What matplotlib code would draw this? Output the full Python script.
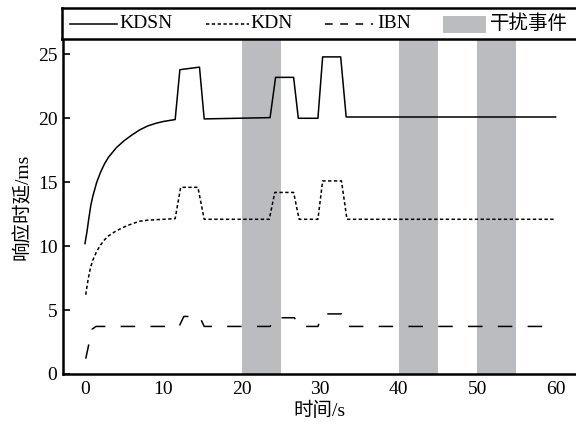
import matplotlib
matplotlib.use("Agg")
import matplotlib.pyplot as plt
from matplotlib.patches import Rectangle
from matplotlib.lines import Line2D

plt.rcParams['font.family'] = ['Liberation Serif', 'Noto Sans CJK SC']

# 数据
kdsn_x = [0, 0.25, 0.5, 0.75, 1, 1.5, 2, 2.5, 3, 4, 5, 6, 7, 8, 9, 10, 11.5, 12.1, 14.6, 15.2,
          23.6, 24.3, 26.6, 27.2, 29.7, 30.3, 32.6, 33.3, 60]
kdsn_y = [10.2, 11.1, 12.2, 13.2, 13.9, 15.0, 15.8, 16.45, 16.95, 17.7, 18.25, 18.7, 19.1, 19.4,
          19.6, 19.75, 19.9, 23.8, 24.0, 19.95, 20.05, 23.2, 23.2, 20.0, 20.0, 24.8, 24.8, 20.1, 20.1]

kdn_x = [0.1, 0.4, 0.7, 1, 1.5, 2, 2.5, 3, 3.5, 4, 5, 6, 7, 8, 10, 11.5, 12.2, 14.4, 15.2,
         23.5, 24.2, 26.6, 27.3, 29.7, 30.3, 32.7, 33.4, 60]
kdn_y = [6.2, 7.4, 8.3, 8.9, 9.6, 10.1, 10.5, 10.8, 11.0, 11.2, 11.5, 11.75, 11.95, 12.03, 12.1,
         12.15, 14.6, 14.6, 12.1, 12.1, 14.2, 14.2, 12.1, 12.1, 15.1, 15.1, 12.1, 12.1]

ibn_x = [0.1, 0.9, 1.4, 12.0, 12.6, 14.6, 15.2, 23.6, 24.2, 26.7, 27.3, 29.7, 30.3,
         32.7, 33.4, 60]
ibn_y = [1.2, 3.5, 3.72, 3.72, 4.5, 4.5, 3.72, 3.72, 4.4, 4.4, 3.72, 3.72, 4.7,
         4.7, 3.72, 3.72]

events = [(20, 25), (40, 45), (50, 55)]
xticks = [0, 10, 20, 30, 40, 50, 60]
yticks = [0, 5, 10, 15, 20, 25]

gray = '#bbbcc0'
W, H = 576, 422
fs = 14

fig = plt.figure(figsize=(5.76, 4.22), dpi=100)
ax = fig.add_axes([63 / W, 48 / H, 1 - 63 / W, (374 - 39) / H])

for a, b in events:
    ax.axvspan(a, b, color=gray, lw=0, zorder=0)

ax.plot(kdsn_x, kdsn_y, color='black', lw=1.1, linestyle='-')
ax.plot(kdn_x, kdn_y, color='black', lw=1.1, linestyle=(0, (2.2, 1.6)))
ax.plot(ibn_x, ibn_y, color='black', lw=1.1, linestyle=(0, (9.5, 10)))

ax.set_xlim(-2.8, 62.6)
ax.set_ylim(0, 26.2)
ax.set_xticks(xticks)
ax.set_yticks(yticks)
ax.tick_params(axis='x', length=0, labelsize=fs, pad=5)
ax.tick_params(axis='y', direction='in', length=5, width=1.2, labelsize=fs, pad=4)
for s in ['top', 'right']:
    ax.spines[s].set_visible(False)
for s in ['left', 'bottom']:
    ax.spines[s].set_linewidth(1.8)

ax.set_xlabel('时间/s', fontsize=fs, labelpad=3)
ax.set_ylabel('响应时延/ms', fontsize=fs, labelpad=4)

# 图例框
lax = fig.add_axes([62 / W, 1 - 39 / H, 1 - 62 / W, 31 / H])
lax.set_xlim(62, W)
lax.set_ylim(39, 8)
lax.set_xticks([])
lax.set_yticks([])
for s in ['top', 'bottom', 'left']:
    lax.spines[s].set_linewidth(1.8)
lax.spines['right'].set_visible(False)

ym = 24
lax.add_line(Line2D([70, 117], [ym, ym], color='black', lw=1.1))
lax.text(119, ym, 'KDSN', fontsize=fs, va='center')
lax.add_line(Line2D([206, 249], [ym, ym], color='black', lw=1.1, linestyle=(0, (2.2, 1.6))))
lax.text(250, ym, 'KDN', fontsize=fs, va='center')
lax.add_line(Line2D([325, 373], [ym, ym], color='black', lw=1.1, linestyle=(0, (5, 5))))
lax.text(377, ym, 'IBN', fontsize=fs, va='center')
lax.add_patch(Rectangle((443, 16), 43, 17, color=gray, lw=0))
lax.text(490, ym, '干扰事件', fontsize=fs, va='center')

fig.savefig('out.png', dpi=100)
